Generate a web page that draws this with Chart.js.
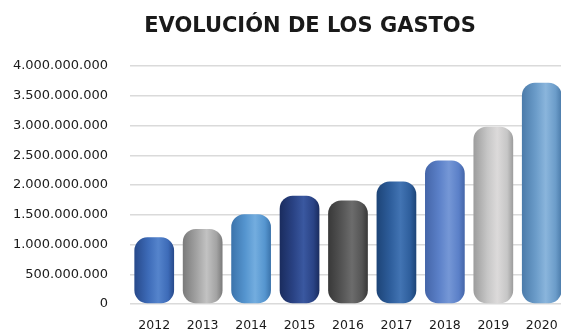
<!DOCTYPE html>
<html>
<head>
<meta charset="utf-8">
<script src="https://cdn.jsdelivr.net/npm/chart.js@4"></script>
<style>
  html, body { margin:0; padding:0; background:#fff; overflow:hidden; }
  #wrap { position:relative; width:561px; height:334px; overflow:hidden; }
  #titulo { position:absolute; left:0; top:13px; width:620px; text-align:center;
    font:bold 21px "DejaVu Sans", sans-serif; color:#1a1a1a; line-height:24px; }
  canvas { position:absolute; left:0; top:0; }
</style>
</head>
<body>
<div id="wrap">
  <canvas id="gastosChart" width="572" height="334"></canvas>
  <div id="titulo">EVOLUCIÓN DE LOS GASTOS</div>
</div>
<script>
const anos = ['2012','2013','2014','2015','2016','2017','2018','2019','2020'];
const gastos = [1120000000,1260000000,1510000000,1820000000,1740000000,2060000000,2410000000,2980000000,3720000000];
// colores de cada cilindro: borde oscuro, tono medio, brillo
const sombras = ['#27498a','#7a7a7a','#3b73ab','#1a2c5e','#383838','#1d4477','#4465a8','#9c9c9c','#4b7baa'];
const tonos   = ['#3d6bb8','#a3a3a3','#5595cf','#2a4385','#555555','#2e5e9c','#5b80c8','#c6c6c6','#6b9cc9'];
const brillos = ['#5584cc','#c2c2c2','#73addf','#3a58a0','#6c6c6c','#4274b3','#7597d6','#dcdada','#8ab5dc'];

const fmt = v => String(v).replace(/\B(?=(\d{3})+(?!\d))/g, '.');
const BAR_PCT = 0.82;

function cilindro(ctx){
  const chart = ctx.chart, i = ctx.dataIndex;
  const xs = chart.scales.x;
  if (!chart.chartArea || !xs || i === undefined) return tonos[i] || '#888';
  const cx = xs.getPixelForValue(i);
  const w = (chart.chartArea.width / anos.length) * BAR_PCT;
  const g = chart.ctx.createLinearGradient(cx - w/2, 0, cx + w/2, 0);
  g.addColorStop(0, sombras[i]);
  g.addColorStop(0.35, tonos[i]);
  g.addColorStop(0.6, brillos[i]);
  g.addColorStop(0.85, tonos[i]);
  g.addColorStop(1, sombras[i]);
  return g;
}

new Chart(document.getElementById('gastosChart'), {
  type: 'bar',
  data: { labels: anos, datasets: [{ data: gastos, backgroundColor: cilindro,
    borderRadius: 13, borderSkipped: false, barPercentage: BAR_PCT, categoryPercentage: 1 }] },
  options: {
    responsive: false, animation: false, devicePixelRatio: 1,
    layout: { padding: { left: 12, top: 66, right: 6, bottom: 1 } },
    plugins: { legend: { display: false }, title: { display: false }, tooltip: { enabled: false } },
    scales: {
      x: { grid: { display: false, drawTicks: false }, border: { display: false },
        afterFit: s => { s.height = 29; },
        ticks: { color: '#1a1a1a', padding: 14, font: { family: 'DejaVu Sans', size: 12.5 } } },
      y: { min: 0, max: 4000000000,
        afterFit: s => { s.width = 118; },
        grid: { color: '#dadada', lineWidth: 1.5, drawTicks: false }, border: { display: false },
        ticks: { stepSize: 500000000, padding: 22, color: '#1a1a1a', callback: v => fmt(v),
          font: { family: 'DejaVu Sans', size: 13 } } }
    }
  }
});
</script>
</body>
</html>
